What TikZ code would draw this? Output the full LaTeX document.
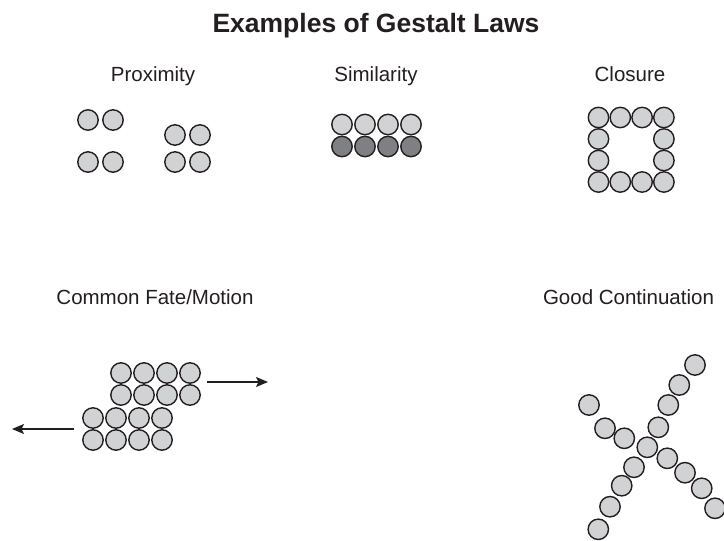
\documentclass[tikz,border=0pt]{standalone}
\usepackage{fontspec}
\setmainfont{Liberation Sans}
\usetikzlibrary{arrows.meta}
\definecolor{dotfill}{HTML}{D1D2D4}
\definecolor{dotdark}{HTML}{7F8083}
\definecolor{inkcol}{HTML}{231F20}
\begin{document}
\begin{tikzpicture}[x=1pt,y=-1pt,
  dot/.style={circle,draw=inkcol,fill=dotfill,line width=1.4pt,minimum size=20.4pt,inner sep=0pt},
  darkdot/.style={dot,fill=dotdark},
  heading/.style={anchor=base,text=inkcol,font=\fontsize{26.5}{30}\selectfont\bfseries},
  lawlabel/.style={anchor=base,text=inkcol,font=\fontsize{20.5}{24}\selectfont},
  motion/.style={-{Stealth[length=12pt,width=10pt,inset=2.5pt]},line width=1.3pt,draw=inkcol}]
\useasboundingbox (0,0) rectangle (724,541);
\fill[white] (0,0) rectangle (724,541);

% title and law names
\node[heading]  (title) at (376,32) {Examples of Gestalt Laws};
\node[lawlabel] (lprox) at (153,81) {Proximity};
\node[lawlabel] (lsim)  at (376,81) {Similarity};
\node[lawlabel] (lclo)  at (630,81) {Closure};
\node[lawlabel] (lfate) at (155,304) {Common Fate/Motion};
\node[lawlabel] (lcont) at (628.5,304) {Good Continuation};

% proximity: two groups of four
\foreach \x/\y [count=\i] in {88/120,113/120,88/162,113/162,175/135,200/135,175/162,200/162}
  \node[dot] (p\i) at (\x,\y) {};

% similarity: light row over dark row
\foreach \k in {0,...,3}{
  \node[dot]     (st\k) at (342+23*\k,124.5) {};
  \node[darkdot] (sb\k) at (342+23*\k,146.5) {};
}

% closure: square outline of dots
\foreach \k in {0,...,3}{
  \node[dot] (ct\k) at (598.5+21.8*\k,117.5) {};
  \node[dot] (cb\k) at (598.5+21.8*\k,182) {};
}
\foreach \k in {1,2}{
  \node[dot] (cl\k) at (598.5,117.5+21.5*\k) {};
  \node[dot] (cr\k) at (663.9,117.5+21.5*\k) {};
}

% common fate: two blocks moving apart
\foreach \k in {0,...,3}{
  \node[dot] (fa\k) at (121+23*\k,373) {};
  \node[dot] (fb\k) at (121+23*\k,395) {};
  \node[dot] (fc\k) at (93+23*\k,418) {};
  \node[dot] (fd\k) at (93+23*\k,440) {};
}
\coordinate (rstart) at (207,382);
\coordinate (rend)   at (268,382);
\coordinate (lstart) at (74,429);
\coordinate (lend)   at (12,429);
\draw[motion] (rstart) -- (rend);
\draw[motion] (lstart) -- (lend);

% good continuation: two crossing chains of dots
\foreach \x/\y [count=\i] in {695/365,679.3/385,668.3/405,658.3/427.3,647.3/447.3,634/467.3,621.7/485.7,610/506.7,598.3/529.3}
  \node[dot] (ga\i) at (\x,\y) {};
\foreach \x/\y [count=\i] in {589/405,605/428.3,624.3/438.3,667.3/458.3,685/472.7,701.7/488.3,715/508.3}
  \node[dot] (gb\i) at (\x,\y) {};
\end{tikzpicture}
\end{document}
